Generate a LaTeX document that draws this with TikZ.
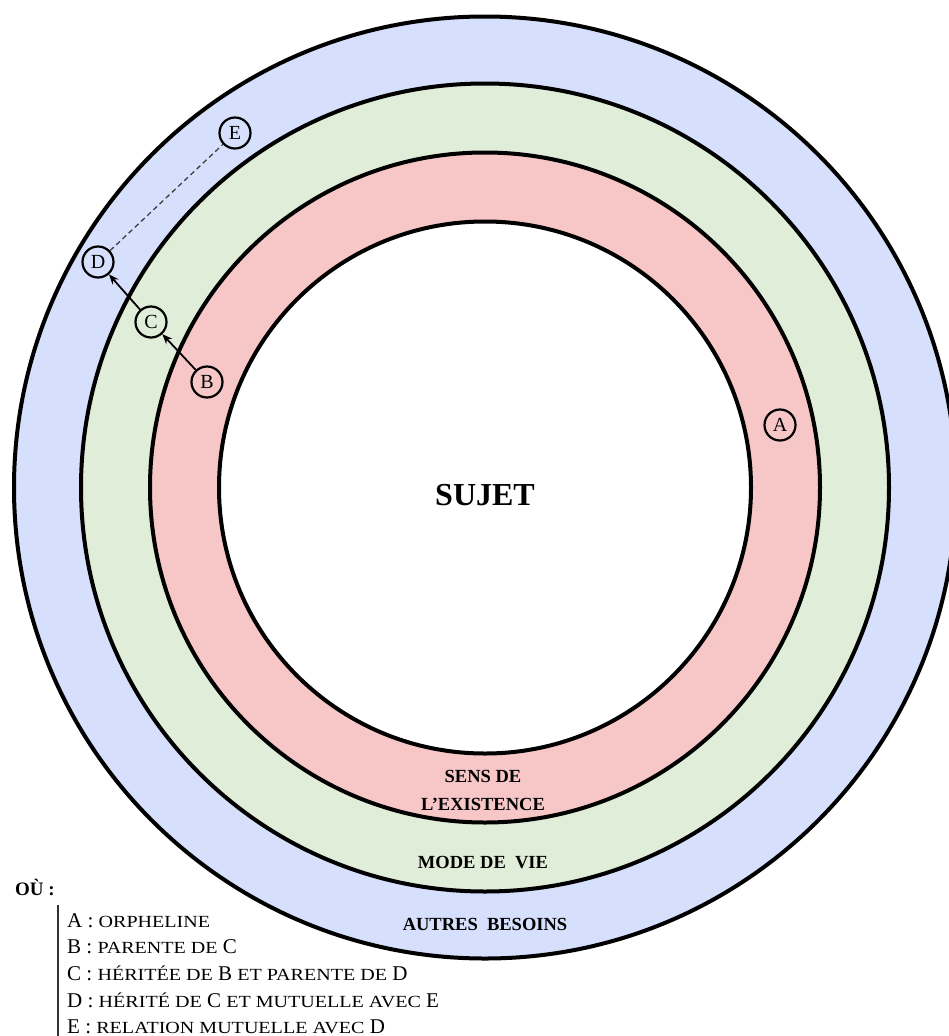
\documentclass[tikz,border=0pt]{standalone}
\usepackage{fontspec}
\usepackage{graphicx}
\setmainfont{Liberation Serif}
\usetikzlibrary{arrows.meta}
\definecolor{ringblue}{RGB}{214,224,252}
\definecolor{ringgreen}{RGB}{224,237,216}
\definecolor{ringpink}{RGB}{247,198,199}
% letter names in the legend, and the (wider) words around them
\newcommand\Lt[1]{{\fontsize{21}{21}\selectfont #1}}
\newcommand\Wd[1]{\scalebox{1.18}[1]{\fontsize{17}{17}\selectfont #1}}
\begin{document}
\begin{tikzpicture}[x=1pt,y=-1pt,
  ring/.style={draw=black,line width=4pt},
  tag/.style={circle,draw=black,line width=2.2pt,minimum size=31pt,inner sep=0pt,
              font=\fontsize{20}{20}\selectfont},
  zone/.style={font=\bfseries\fontsize{18.5}{18.5}\selectfont,anchor=base,inner sep=0pt},
  link/.style={-{Stealth[length=10pt,width=8pt]},line width=1.8pt},
  mutual/.style={dash pattern=on 5pt off 3.5pt,line width=1.3pt,draw=black!75},
  legend/.style={anchor=base west,inner sep=0pt,font=\fontsize{21}{21}\selectfont}]
\useasboundingbox (0,0) rectangle (949,1036);
\clip (0,0) rectangle (949,1036);
\fill[white] (0,0) rectangle (949,1036);

% concentric rings
\coordinate (O) at (485,487.5);
\draw[ring,fill=ringblue]  (O) circle[radius=471pt];
\draw[ring,fill=ringgreen] (O) circle[radius=404pt];
\draw[ring,fill=ringpink]  (O) circle[radius=335pt];
\draw[ring,fill=white]     (O) circle[radius=266pt];

% ring titles
\node[zone,font=\bfseries\fontsize{32}{32}\selectfont] (sujet) at (485,505) {SUJET};
\node[zone] (sens1) at (483,782) {SENS DE};
\node[zone] (sens2) at (483,810) {L’EXISTENCE};
\node[zone] (mode) at (483,868) {MODE DE\ \ VIE};
\node[zone] (autres) at (485,930) {AUTRES\ \ BESOINS};

% elements
\node[tag] (A) at (780,425) {A};
\node[tag] (B) at (207,382) {B};
\node[tag] (C) at (151,322) {C};
\node[tag] (D) at (98,262) {D};
\node[tag] (E) at (235,133) {E};

\draw[link] (B) -- (C);
\draw[link] (C) -- (D);
\draw[mutual] (D) -- (E);

% legend
\node[legend,font=\bfseries\fontsize{19}{19}\selectfont] (ou) at (15,895) {OÙ :};
\coordinate (barTop) at (58,905);
\coordinate (barEnd) at (58,1036);
\draw[line width=1.5pt,black!80] (barTop) -- (barEnd);
\node[legend] (la) at (67,927)  {\Lt{A} : \Wd{ORPHELINE}};
\node[legend] (lb) at (67,953)  {\Lt{B} : \Wd{PARENTE DE} \Lt{C}};
\node[legend] (lc) at (67,980)  {\Lt{C} : \Wd{HÉRITÉE DE} \Lt{B} \Wd{ET PARENTE DE} \Lt{D}};
\node[legend] (ld) at (67,1007) {\Lt{D} : \Wd{HÉRITÉ DE} \Lt{C} \Wd{ET MUTUELLE AVEC} \Lt{E}};
\node[legend] (le) at (67,1033) {\Lt{E} : \Wd{RELATION MUTUELLE AVEC} \Lt{D}};
\end{tikzpicture}
\end{document}
